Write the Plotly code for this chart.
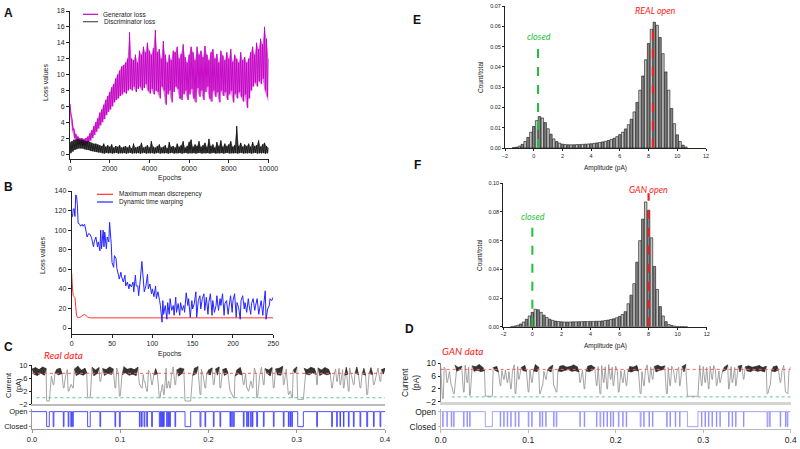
import plotly.graph_objects as go

W, H = 800, 449
FONT = "Liberation Sans"


def px(x):
    return x / W


def py(y):
    return 1 - y / H


# ---------------- A: GAN losses, envelope read per 100 epochs (high, low) ----------------
epoch_step = 100
gen_hi = [6.3, 4.5, 3.2, 2.5, 2.2, 2.0, 2.0, 1.9, 2.0, 2.2,
          2.6, 3.0, 3.5, 4.0, 4.5, 5.2, 5.6, 6.2, 6.8, 7.3,
          7.8, 8.4, 8.8, 9.5, 10.0, 10.5, 11.0, 11.2, 11.5, 12.0,
          15.3, 12.0, 11.8, 12.5, 11.5, 13.0, 12.5, 13.5, 12.8, 14.0,
          13.0, 12.5, 13.3, 15.6, 12.8, 13.2, 12.0, 14.2, 12.5, 11.5,
          12.5, 11.8, 13.0, 12.8, 13.5, 12.0, 12.6, 13.8, 12.2, 11.5,
          12.5, 13.5, 12.8, 11.8, 13.5, 12.5, 13.0, 12.2, 13.6, 12.5,
          11.8, 12.8, 13.2, 12.0, 12.6, 11.5, 13.0, 12.4, 11.8, 12.8,
          12.0, 13.2, 11.6, 12.5, 12.0, 11.5, 12.8, 11.8, 12.2, 11.5,
          12.0, 12.8, 13.5, 12.5, 14.0, 13.2, 14.5, 13.8, 16.0, 14.5, 12.0]
gen_lo = [5.0, 3.0, 2.0, 1.6, 1.3, 1.2, 1.1, 1.1, 1.2, 1.4,
          1.7, 2.0, 2.4, 2.8, 3.2, 3.6, 4.0, 4.4, 4.9, 5.3,
          5.6, 6.0, 6.5, 6.8, 7.0, 7.3, 7.5, 7.8, 7.6, 8.0,
          8.2, 8.0, 8.5, 7.8, 8.2, 8.5, 8.0, 8.3, 8.8, 8.0,
          7.6, 8.2, 7.5, 8.0, 7.8, 7.0, 8.5, 8.0, 6.2, 7.5,
          8.0, 6.5, 7.8, 8.5, 8.2, 7.0, 6.8, 7.5, 8.0, 6.8,
          7.5, 8.2, 7.0, 6.5, 8.3, 7.2, 8.0, 6.8, 7.8, 8.5,
          7.0, 6.6, 8.0, 7.2, 7.8, 6.5, 8.0, 7.3, 7.8, 6.8,
          7.5, 8.0, 6.5, 7.6, 7.0, 7.8, 7.2, 6.6, 7.5, 5.8,
          7.0, 8.0, 8.5, 9.0, 8.5, 9.2, 8.8, 9.5, 8.0, 7.2, 6.5]
disc_hi = [1.5, 1.6, 1.8, 1.8, 1.9, 1.8, 1.8, 1.7, 1.6, 1.6,
           1.5, 1.4, 1.3, 1.3, 1.2, 1.1, 1.0, 1.3, 0.9, 1.1,
           0.9, 1.2, 0.8, 1.0, 0.9, 1.1, 0.8, 0.9, 1.0, 0.8,
           1.1, 0.7, 1.3, 0.8, 0.9, 1.0, 1.4, 0.8, 0.9, 1.1,
           0.8, 1.6, 0.9, 0.8, 1.0, 1.2, 0.8, 0.9, 1.1, 0.7,
           1.5, 0.9, 1.0, 0.8, 1.3, 0.9, 1.1, 1.6, 0.8, 1.0,
           1.5, 1.8, 0.9, 1.2, 1.0, 1.6, 0.9, 1.1, 1.4, 0.9,
           1.9, 1.0, 1.2, 0.8, 1.5, 1.0, 1.7, 0.9, 1.3, 1.0,
           1.2, 1.6, 0.9, 1.1, 3.5, 1.0, 1.4, 0.9, 1.2, 1.0,
           1.3, 0.9, 1.5, 1.0, 1.1, 1.7, 0.9, 1.2, 1.4, 1.0, 0.8]
disc_lo = [0.1, 0.3, 0.5, 0.6, 0.7, 0.7, 0.7, 0.6, 0.55, 0.5,
           0.4, 0.35, 0.3, 0.25, 0.2, 0.2, 0.1, 0.05, 0.15, 0.08,
           0.12, 0.06, 0.1, 0.15, 0.05, 0.1, 0.08, 0.12, 0.05, 0.1,
           0.15, 0.06, 0.1, 0.08, 0.12, 0.05, 0.1, 0.15, 0.06, 0.1,
           0.08, 0.12, 0.05, 0.1, 0.15, 0.06, 0.1, 0.08, 0.12, 0.05,
           0.1, 0.15, 0.06, 0.1, 0.08, 0.12, 0.05, 0.1, 0.15, 0.06,
           0.1, 0.08, 0.12, 0.05, 0.1, 0.15, 0.06, 0.1, 0.08, 0.12,
           0.05, 0.1, 0.15, 0.06, 0.1, 0.08, 0.12, 0.05, 0.1, 0.15,
           0.06, 0.1, 0.08, 0.12, 0.05, 0.1, 0.15, 0.06, 0.1, 0.08,
           0.12, 0.05, 0.1, 0.15, 0.06, 0.1, 0.08, 0.12, 0.05, 0.1, 0.1]

# ---------------- B: MMD and DTW ----------------
mmd_epochs = [0, 1, 2, 3, 4, 5, 6, 7, 8, 10, 12, 14, 16, 18, 20, 22, 25, 250]
mmd_values = [56, 40, 33, 32, 31, 22, 13, 11, 10.8, 11, 11.8, 13.2, 13.8, 12.5, 11, 10.5, 10.4, 10.4]
dtw_epochs = [0, 1, 2, 3, 4, 5, 6, 7, 8, 10, 11, 13, 14, 16, 18, 19, 21, 23, 25, 27,
              28, 30, 32, 33, 35, 36, 37, 39, 40, 41, 43, 44, 46, 47, 49, 50, 52, 53, 55, 56,
              58, 59, 61, 62, 64, 66, 67, 69, 71, 72, 74, 76, 77, 79, 80, 82, 83, 85, 87, 89,
              90, 92, 94, 95, 97, 99, 100, 102, 104, 105, 107, 109, 110, 112, 113, 114, 116, 118, 119, 121,
              122, 124, 126, 127, 129, 130, 132, 134, 135, 137, 139, 140, 142, 144, 145, 147, 149, 150, 152, 154,
              155, 157, 159, 160, 162, 164, 165, 167, 169, 170, 172, 174, 175, 177, 179, 180, 182, 184, 185, 187,
              189, 190, 192, 194, 195, 197, 199, 200, 202, 204, 205, 207, 209, 210, 212, 214, 215, 217, 219, 220,
              222, 223, 225, 227, 228, 230, 232, 233, 235, 237, 238, 240, 241, 243, 245, 246, 248, 250]
dtw_values = [113, 114, 121.6, 122, 114, 136, 135, 126, 107, 106, 104, 106, 104, 106, 98, 93, 96.6, 95.5, 91, 83,
              88, 93, 83, 88, 79, 100, 81, 100, 83, 98, 81, 93, 88, 108, 86, 67, 62, 74, 71, 61,
              54, 50, 57, 52, 47, 54, 43, 47, 40, 45, 42, 47, 37, 54, 43, 43, 33, 49, 68, 47,
              37, 43, 55, 40, 45, 35, 40, 32, 43, 30, 37, 28, 23, 6, 28, 14, 23, 9, 26, 14,
              30, 18, 23, 13, 31.5, 16, 25, 13, 26, 18, 23, 16, 36, 23, 30, 11, 28, 19.5, 25, 37,
              11, 28, 33, 19.5, 30, 35, 18, 31.5, 14, 26, 35, 13, 28, 16, 23, 33, 18, 30, 23, 35,
              13, 25, 28, 14, 21, 33, 16, 28, 35, 11, 26, 21, 9, 28, 33, 19.5, 26, 16, 30, 23,
              14, 25, 30, 18, 23, 30, 14, 19.5, 28, 13, 23, 38, 9, 19.5, 23, 30, 28, 31.5]

# ---------------- E / F: amplitude histograms (bin centres, pA) ----------------
amp_bins = [round(-1.4 + 0.2 * i, 1) for i in range(61)]
real_frac = [0.0002, 0.0004, 0.0009, 0.0018, 0.0032, 0.0052, 0.0078, 0.0106, 0.0135, 0.0155,
             0.0148, 0.0125, 0.0095, 0.0068, 0.0045, 0.0032, 0.0024, 0.0019, 0.0017, 0.0016,
             0.0016, 0.0016, 0.0017, 0.0017, 0.0018, 0.0019, 0.0020, 0.0021, 0.0023, 0.0025,
             0.0027, 0.0030, 0.0033, 0.0037, 0.0042, 0.0048, 0.0056, 0.0066, 0.0078, 0.0094,
             0.0115, 0.0142, 0.0178, 0.0225, 0.0285, 0.0355, 0.0435, 0.0515, 0.0585, 0.0620,
             0.0605, 0.0545, 0.0465, 0.0375, 0.0285, 0.0195, 0.0120, 0.0065, 0.0032, 0.0014, 0.0005]
gan_frac = [0.0002, 0.0005, 0.0010, 0.0019, 0.0033, 0.0052, 0.0075, 0.0100, 0.0122, 0.0118,
            0.0100, 0.0080, 0.0064, 0.0052, 0.0044, 0.0039, 0.0036, 0.0034, 0.0033, 0.0033,
            0.0033, 0.0034, 0.0034, 0.0035, 0.0035, 0.0036, 0.0036, 0.0037, 0.0037, 0.0038,
            0.0038, 0.0040, 0.0043, 0.0046, 0.0050, 0.0055, 0.0062, 0.0072, 0.0085, 0.0105,
            0.0160, 0.0220, 0.0300, 0.0450, 0.0600, 0.0750, 0.0870, 0.0810, 0.0620, 0.0420,
            0.0260, 0.0140, 0.0075, 0.0035, 0.0015, 0.0008, 0.0004, 0.0002, 0.0001, 0.0001, 0.0]
real_closed, real_open = 0.3, 8.3
gan_closed, gan_open = 0.0, 8.0
real_marker_top = [0.052, 0.0615]
gan_marker_top = [0.073, 0.093]

# ---------------- C / D: current traces ----------------
# open-state noise band read per 4 ms slot (top, bottom), pA
trace_dt = 0.004
c_hi = [8.8, 9.2, 8.6, 9.4, 8.9, 8.5, 9.3, 8.7, 9.0, 9.5,
        8.6, 9.1, 8.8, 9.6, 8.4, 9.0, 8.7, 9.3, 8.5, 9.2,
        8.9, 8.6, 9.4, 8.8, 9.1, 8.5, 9.5, 8.7, 9.0, 8.6,
        9.3, 8.8, 9.1, 8.4, 9.2, 8.9, 9.6, 8.6, 9.0, 8.7,
        9.4, 8.5, 9.1, 8.8, 9.3, 8.6, 9.0, 9.5, 8.7, 9.2,
        8.5, 9.1, 8.8, 9.4, 8.6, 9.0, 8.9, 9.3, 8.5, 9.2,
        8.7, 9.5, 8.8, 9.1, 8.6, 9.3, 8.9, 8.5, 9.2, 8.8,
        9.0, 9.6, 8.7, 9.1, 8.5, 9.4, 8.8, 9.0, 8.6, 9.3,
        8.9, 9.1, 8.5, 9.2, 8.7, 9.5, 8.8, 9.0, 8.6, 9.3,
        9.1, 8.7, 9.4, 8.9, 9.0, 8.5, 9.2, 8.8, 9.1, 8.6, 9.0]
c_lo = [7.2, 6.8, 7.5, 6.9, 7.3, 6.6, 7.6, 7.0, 7.4, 6.7,
        7.1, 7.5, 6.8, 7.3, 6.9, 7.6, 7.0, 6.7, 7.4, 7.2,
        6.8, 7.5, 7.1, 6.6, 7.3, 7.0, 7.6, 6.9, 7.2, 6.8,
        7.4, 7.1, 6.7, 7.5, 7.0, 7.3, 6.8, 7.6, 7.1, 6.9,
        7.2, 6.6, 7.4, 7.0, 7.5, 6.8, 7.3, 7.1, 6.7, 7.4,
        7.0, 7.6, 6.9, 7.2, 6.8, 7.5, 7.1, 6.6, 7.3, 7.0,
        7.4, 6.9, 7.6, 7.1, 6.8, 7.2, 7.5, 6.7, 7.3, 7.0,
        6.9, 7.4, 7.1, 6.6, 7.5, 7.2, 6.8, 7.3, 7.0, 7.6,
        7.1, 6.8, 7.4, 7.0, 7.3, 6.7, 7.5, 7.1, 6.9, 7.2,
        6.8, 7.6, 7.0, 7.3, 6.9, 7.4, 7.1, 6.7, 7.5, 7.2, 7.0]
d_hi = [9.0, 8.8, 9.3, 8.9, 9.5, 8.7, 9.1, 9.4, 8.8, 9.2,
        8.9, 9.6, 8.8, 9.1, 9.3, 8.7, 9.0, 9.4, 8.9, 9.2,
        8.8, 9.5, 9.0, 8.7, 9.3, 9.1, 8.9, 9.6, 8.8, 9.2,
        9.0, 8.7, 9.4, 8.9, 9.1, 9.3, 8.8, 9.0, 9.5, 8.9,
        9.2, 8.8, 9.1, 9.4, 8.7, 9.0, 9.3, 8.9, 9.6, 8.8,
        9.1, 9.2, 8.7, 9.4, 9.0, 8.8, 9.3, 9.1, 8.9, 9.5,
        8.8, 9.0, 9.4, 8.9, 9.2, 8.7, 9.1, 9.3, 8.8, 9.0,
        9.6, 8.9, 9.2, 8.8, 9.4, 9.0, 8.7, 9.1, 9.3, 8.9,
        9.2, 8.8, 9.5, 9.0, 8.7, 9.1, 9.4, 8.9, 9.2, 8.8,
        9.0, 9.3, 8.7, 9.1, 9.5, 8.9, 9.2, 8.8, 9.4, 9.0, 8.9]
d_lo = [7.6, 7.9, 7.4, 7.8, 7.5, 8.0, 7.6, 7.3, 7.9, 7.5,
        7.8, 7.4, 7.7, 8.0, 7.5, 7.8, 7.3, 7.7, 7.9, 7.4,
        7.6, 7.9, 7.3, 7.7, 7.5, 8.0, 7.6, 7.4, 7.8, 7.5,
        7.9, 7.3, 7.7, 7.6, 7.4, 7.8, 8.0, 7.5, 7.7, 7.3,
        7.8, 7.6, 7.4, 7.9, 7.5, 7.7, 7.3, 7.8, 7.6, 8.0,
        7.4, 7.7, 7.9, 7.5, 7.3, 7.8, 7.6, 7.4, 7.9, 7.5,
        7.7, 7.3, 7.8, 8.0, 7.6, 7.4, 7.9, 7.5, 7.7, 7.3,
        7.8, 7.6, 7.4, 7.9, 7.5, 8.0, 7.7, 7.3, 7.8, 7.6,
        7.4, 7.9, 7.5, 7.7, 8.0, 7.3, 7.8, 7.6, 7.4, 7.9,
        7.5, 7.7, 7.3, 7.8, 7.6, 7.4, 7.9, 7.5, 7.7, 7.6, 7.8]
# closing events: (start s, end s, lowest current pA)
c_events = [(0.0166, 0.0196, -1.0), (0.0240, 0.0248, 4.0), (0.0355, 0.0363, 3.0), (0.0410, 0.0418, 2.0),
            (0.0440, 0.0448, 4.0), (0.0460, 0.0468, 3.0), (0.0630, 0.0660, 0.0), (0.0770, 0.0778, 5.0),
            (0.0940, 0.0948, 3.0), (0.0990, 0.1000, 0.5), (0.1217, 0.1225, 4.0), (0.1240, 0.1248, 3.0),
            (0.1270, 0.1278, 5.0), (0.1300, 0.1308, 2.0), (0.1356, 0.1364, 4.0), (0.1443, 0.1453, 0.0),
            (0.1460, 0.1466, 2.0), (0.1475, 0.1481, 4.0), (0.1490, 0.1498, 1.0), (0.1526, 0.1534, 3.0),
            (0.1545, 0.1551, 5.0), (0.1560, 0.1568, 3.0), (0.1620, 0.1628, 4.0), (0.1734, 0.1798, -1.0),
            (0.1904, 0.1914, 1.0), (0.1960, 0.1968, 3.0), (0.2055, 0.2063, 4.0), (0.2130, 0.2138, 3.0),
            (0.2244, 0.2250, 2.0), (0.2263, 0.2269, 1.0), (0.2282, 0.2292, 0.0), (0.2395, 0.2403, 4.0),
            (0.2433, 0.2439, 3.0), (0.2450, 0.2456, 2.0), (0.2478, 0.2484, 5.0), (0.2497, 0.2503, 3.0),
            (0.2546, 0.2556, 0.0), (0.2622, 0.2630, 4.0), (0.2735, 0.2743, 3.0), (0.2848, 0.2856, 4.0),
            (0.2905, 0.2911, 1.0), (0.2924, 0.2930, 2.0), (0.2943, 0.2951, 0.0), (0.3011, 0.3075, -0.5),
            (0.3226, 0.3234, 4.0), (0.3396, 0.3404, 3.0), (0.3453, 0.3459, 5.0), (0.3490, 0.3496, 4.0),
            (0.3529, 0.3535, 3.0), (0.3585, 0.3593, 2.0), (0.3642, 0.3650, 4.0), (0.3717, 0.3725, 3.0),
            (0.3793, 0.3803, 1.0), (0.3869, 0.3877, 4.0), (0.3944, 0.3952, 5.0)]
d_events = [(0.0020, 0.0030, -1.0), (0.0070, 0.0076, 4.0), (0.0120, 0.0126, 3.0), (0.0145, 0.0155, 0.5),
            (0.0260, 0.0268, 1.0), (0.0300, 0.0306, 4.0), (0.0330, 0.0338, 0.0), (0.0510, 0.0590, -0.3),
            (0.0680, 0.0686, 3.0), (0.0720, 0.0726, 5.0), (0.0760, 0.0766, 4.0), (0.0800, 0.0806, 2.0),
            (0.0850, 0.0858, 0.5), (0.0890, 0.0896, 5.0), (0.1000, 0.1008, 1.0), (0.1040, 0.1046, 4.0),
            (0.1130, 0.1138, 0.5), (0.1160, 0.1166, 3.0), (0.1200, 0.1206, 5.0), (0.1290, 0.1296, 3.0),
            (0.1320, 0.1328, 1.0), (0.1590, 0.1596, 4.0), (0.1640, 0.1646, 2.0), (0.1780, 0.1786, 3.0),
            (0.1820, 0.1830, 0.5), (0.1860, 0.1866, 4.0), (0.1900, 0.1906, 2.0), (0.1940, 0.1946, 5.0),
            (0.1970, 0.1976, 3.0), (0.2030, 0.2038, 1.0), (0.2080, 0.2086, 4.0), (0.2120, 0.2126, 3.0),
            (0.2280, 0.2290, 0.5), (0.2320, 0.2326, 3.0), (0.2380, 0.2386, 4.0), (0.2420, 0.2426, 5.0),
            (0.2580, 0.2590, 0.5), (0.2620, 0.2626, 3.0), (0.2680, 0.2686, 4.0), (0.2730, 0.2736, 3.0),
            (0.2820, 0.2940, -0.3), (0.2980, 0.2986, 3.0), (0.3020, 0.3026, 4.0), (0.3060, 0.3066, 2.0),
            (0.3100, 0.3106, 5.0), (0.3150, 0.3156, 3.0), (0.3190, 0.3196, 4.0), (0.3290, 0.3296, 2.0),
            (0.3330, 0.3336, 4.0), (0.3370, 0.3376, 3.0), (0.3460, 0.3466, 5.0), (0.3730, 0.3740, 0.5),
            (0.3760, 0.3766, 3.0), (0.3880, 0.3886, 4.0), (0.3940, 0.3946, 1.0), (0.3960, 0.3968, 0.5)]
c_levels = [7.46, 0.0]     # open (red), closed (green)
d_levels = [8.1, -0.5]
c_green_start, d_green_start = 0.005, 0.0126
t_end = 0.4


def zigzag(hi, lo, step, xmax):
    xs, ys = [], []
    for i, (h, l) in enumerate(zip(hi, lo)):
        for x, v in ((i * step, h), (i * step + step / 2, l)):
            if x <= xmax:
                xs.append(x)
                ys.append(v)
    return xs, ys


def build_current(hi, lo, events, dt):
    zx, zy = zigzag(hi, lo, dt, t_end)
    pts = [(t, v) for t, v in zip(zx, zy)
           if all(not (s - 0.0005 <= t <= e + 0.0005) for s, e, d in events)]
    for s, e, d in events:
        pts.append((s, d))
        pts.append((e, d))
    pts.sort()
    return [p[0] for p in pts], [p[1] for p in pts]


def band_segments(hi, lo, events, dt):
    # one closed polygon (top forward, bottom back) per open stretch between closings
    zx, zy = zigzag(hi, lo, dt, t_end)
    tops = [(t, v) for j, (t, v) in enumerate(zip(zx, zy)) if j % 2 == 0]
    bots = [(t, v) for j, (t, v) in enumerate(zip(zx, zy)) if j % 2 == 1]
    edges = [-1.0]
    for s, e, d in events:
        edges += [s, e]
    edges.append(1.0)
    segs = []
    for a, b in zip(edges[0::2], edges[1::2]):
        tp = [p for p in tops if a + 0.0004 < p[0] < b - 0.0004]
        bt = [p for p in bots if a + 0.0004 < p[0] < b - 0.0004]
        if len(tp) + len(bt) < 3 or not tp or not bt:
            continue
        pts = tp + bt[::-1]
        segs.append(([p[0] for p in pts], [p[1] for p in pts]))
    return segs


def build_digital(events):
    xs, ys = [0], [1]
    for s, e, d in events:
        xs += [s, s, e, e]
        ys += [1, 0, 0, 1]
    xs.append(t_end)
    ys.append(1)
    return xs, ys


def line(color, width, dash=None):
    return dict(color=color, width=width, dash=dash, simplify=False)


fig = go.Figure()

# A: shaded envelope plus the zig-zag trace on top
ex = [i * epoch_step for i in range(len(gen_hi))]
for hi, lo, shade, col in ((gen_hi, gen_lo, "rgba(196,0,196,0.55)", "#c400c4"),
                           (disc_hi, disc_lo, "rgba(20,20,20,0.6)", "#151515")):
    fig.add_trace(go.Scatter(x=ex, y=hi, mode="lines", line=line(col, 0), xaxis="x", yaxis="y"))
    fig.add_trace(go.Scatter(x=ex, y=lo, mode="lines", line=line(col, 0), fill="tonexty", fillcolor=shade,
                             xaxis="x", yaxis="y"))
    zx, zy = zigzag(hi, lo, epoch_step, 10000)
    fig.add_trace(go.Scatter(x=zx, y=zy, mode="lines", line=line(col, 0.9), xaxis="x", yaxis="y"))

# B
fig.add_trace(go.Scatter(x=mmd_epochs, y=mmd_values, mode="lines", line=line("#ff3333", 1), xaxis="x2", yaxis="y2"))
fig.add_trace(go.Scatter(x=dtw_epochs, y=dtw_values, mode="lines", line=line("#2424ff", 1), xaxis="x2", yaxis="y2"))

# E / F histograms
bar_cols = ["#858585" if i % 2 else "#c4c4c4" for i in range(len(amp_bins))]
for xa, ya, vals in (("x3", "y3", real_frac), ("x4", "y4", gan_frac)):
    fig.add_trace(go.Bar(x=amp_bins, y=vals, width=0.17, marker=dict(color=bar_cols, line=dict(color="#111", width=0.6)),
                         xaxis=xa, yaxis=ya))
for xa, ya, (xc, xo), tops in (("x3", "y3", (real_closed, real_open), real_marker_top),
                              ("x4", "y4", (gan_closed, gan_open), gan_marker_top)):
    fig.add_trace(go.Scatter(x=[xc, xc], y=[0, tops[0]], mode="lines",
                             line=line("#1fc03a", 2, "dash"), xaxis=xa, yaxis=ya))
    fig.add_trace(go.Scatter(x=[xo, xo], y=[0, tops[1]], mode="lines",
                             line=line("#ee2020", 2.2, "dash"), xaxis=xa, yaxis=ya))

# C / D traces: light grey full trace (closings), dark band for the open-state noise
for xa, ya, xb, yb, hi, lo, ev, lv, gstart, dcol in (
        ("x5", "y5", "x6", "y6", c_hi, c_lo, c_events, c_levels, c_green_start, "rgba(50,50,255,0.85)"),
        ("x7", "y7", "x8", "y8", d_hi, d_lo, d_events, d_levels, d_green_start, "rgba(90,90,255,0.55)")):
    cx, cy = build_current(hi, lo, ev, trace_dt)
    fig.add_trace(go.Scatter(x=cx, y=cy, mode="lines", line=line("#8e8e8e", 0.8), xaxis=xa, yaxis=ya))
    for bx, by in band_segments(hi, lo, ev, trace_dt):
        fig.add_trace(go.Scatter(x=bx, y=by, mode="lines", line=line("#1e1e1e", 0.6), fill="toself",
                                 fillcolor="rgba(25,25,25,0.85)", xaxis=xa, yaxis=ya))
    fig.add_trace(go.Scatter(x=[0, t_end], y=[lv[0], lv[0]], mode="lines",
                             line=line("#ff5a5a", 1, "dot"), xaxis=xa, yaxis=ya))
    fig.add_trace(go.Scatter(x=[gstart, t_end], y=[lv[1], lv[1]], mode="lines",
                             line=line("#5cc88a", 1, "dot"), xaxis=xa, yaxis=ya))
    sx, sy = build_digital(ev)
    fig.add_trace(go.Scatter(x=sx, y=sy, mode="lines", line=line(dcol, 1), xaxis=xb, yaxis=yb))


def ax(**kw):
    base = dict(showline=True, linecolor="#222", linewidth=1, ticks="outside", ticklen=3, tickwidth=1,
                tickcolor="#222", showgrid=False, zeroline=False, automargin=False,
                ticklabeloverflow="allow",
                tickfont=dict(size=7, color="#222", family=FONT))
    base.update(kw)
    return base


small = dict(size=5.5, color="#222", family=FONT)
ct = ["0.0", "0.1", "0.2", "0.3", "0.4"]
cv = [0, 0.1, 0.2, 0.3, 0.4]
ea = [0, 2000, 4000, 6000, 8000, 10000]

fig.update_layout(
    width=W, height=H, margin=dict(l=0, r=0, t=0, b=0, autoexpand=False),
    paper_bgcolor="white", plot_bgcolor="white", showlegend=False, bargap=0.1,
    xaxis=ax(domain=[px(70), px(268.5)], range=[0, 10000], tickvals=ea, ticktext=[str(v) for v in ea], anchor="y"),
    yaxis=ax(domain=[py(159), py(11)], range=[-0.63, 18], tickvals=list(range(0, 19, 2)), anchor="x"),
    xaxis2=ax(domain=[px(71.7), px(273.3)], range=[0, 250], tickvals=[0, 50, 100, 150, 200, 250], anchor="y2"),
    yaxis2=ax(domain=[py(334), py(191)], range=[-6.1, 140], tickvals=list(range(0, 141, 20)), anchor="x2"),
    xaxis3=ax(domain=[px(505), px(706)], range=[-2, 12], dtick=2, tickfont=small, ticklen=2, anchor="y3"),
    yaxis3=ax(domain=[py(148), py(6)], range=[0, 0.07], dtick=0.01, tickformat=".2f", tickfont=small, ticklen=2, anchor="x3"),
    xaxis4=ax(domain=[px(503.3), px(706.7)], range=[-2, 12], dtick=2, tickfont=small, ticklen=2, anchor="y4"),
    yaxis4=ax(domain=[py(326.7), py(183.3)], range=[0, 0.1], dtick=0.02, tickformat=".2f", tickfont=small, ticklen=2, anchor="x4"),
    xaxis5=ax(domain=[px(32), px(385)], range=[0, t_end], showticklabels=False, ticks="", linecolor="#bbbbbb", linewidth=1.5, anchor="y5"),
    yaxis5=ax(domain=[py(404.3), py(365)], range=[-2, 10], tickvals=[-2, 2, 6, 10], ticklen=2, tickfont=dict(size=7.5, color="#222", family=FONT), anchor="x5"),
    xaxis6=ax(domain=[px(32), px(385)], range=[0, t_end], tickvals=cv, ticktext=ct, linecolor="#999", tickcolor="#999", tickfont=dict(size=7.5, color="#222", family=FONT), anchor="y6"),
    yaxis6=ax(domain=[py(428.9), py(409.4)], range=[-0.15, 1.15], tickvals=[0, 1], ticktext=["Closed", "Open"], linecolor="#999", tickcolor="#999", ticklen=2, tickfont=dict(size=7.5, color="#222", family=FONT), anchor="x6"),
    xaxis7=ax(domain=[px(440.7), px(790.7)], range=[0, t_end], showticklabels=False, ticks="", linecolor="#d4d4d4", linewidth=2.5, anchor="y7"),
    yaxis7=ax(domain=[py(401.7), py(363.3)], range=[-2, 10], tickvals=[-2, 2, 6, 10], ticklen=2, linecolor="#888", tickfont=dict(size=8.5, color="#222", family=FONT), anchor="x7"),
    xaxis8=ax(domain=[px(440.7), px(790.7)], range=[0, t_end], tickvals=cv, ticktext=ct, linecolor="#bbb", tickcolor="#bbb", tickfont=dict(size=8.5, color="#222", family=FONT), anchor="y8"),
    yaxis8=ax(domain=[py(428.9), py(409.4)], range=[-0.15, 1.15], tickvals=[0, 1], ticktext=["Closed", "Open"], linecolor="#bbb", tickcolor="#bbb", ticklen=2, tickfont=dict(size=8.5, color="#222", family=FONT), anchor="x8"),
)


def note(text, x, y, size=7, angle=0, color="#222", italic=False, bold=False, family=FONT, xanchor="center"):
    if bold:
        text = "<b>" + text + "</b>"
    if italic:
        text = "<i>" + text + "</i>"
    fig.add_annotation(text=text, x=px(x), y=py(y), xref="paper", yref="paper", showarrow=False,
                       textangle=angle, xanchor=xanchor, yanchor="middle",
                       font=dict(size=size, color=color, family=family))


# panel letters
for lab, x, y in (("A", 8, 13), ("B", 8, 187), ("C", 8, 347), ("D", 409, 329), ("E", 417, 20), ("F", 417, 165)):
    note(lab, x, y, size=12, bold=True, color="#111")

# axis titles
note("Epochs", 170, 178)
note("Loss values", 45, 83, angle=-90)
note("Epochs", 170, 354)
note("Loss values", 42, 256, angle=-90)
note("Count/total", 480, 77, size=6.5, angle=-90)
note("Amplitude (pA)", 605, 168, size=6.5)
note("Count/total", 479, 255, size=6.5, angle=-90)
note("Amplitude (pA)", 605, 346, size=6.5)
note("Current<br>(pA)", 13, 385, size=7.5, angle=-90)
note("Current<br>(pA)", 410, 382, size=8.5, angle=-90)

# legends
for y, col, lab in ((14.3, "#c400c4", "Generator loss"), (21.7, "#555", "Discriminator loss")):
    fig.add_shape(type="line", xref="paper", yref="paper", x0=px(83), x1=px(98), y0=py(y), y1=py(y),
                  line=dict(color=col, width=1.2))
    note(lab, 101.5, y, size=6.5, xanchor="left")
for y, col, lab in ((194.3, "#ff3333", "Maximum mean discrepency"), (202, "#2424ff", "Dynamic time warping")):
    fig.add_shape(type="line", xref="paper", yref="paper", x0=px(97), x1=px(113), y0=py(y), y1=py(y),
                  line=dict(color=col, width=1.2))
    note(lab, 116.5, y, size=6.5, xanchor="left")

# red / green italic labels
note("Real data", 63, 355, size=10, color="#ff2020", italic=True, family="Lato")
note("GAN data", 462, 351, size=10, color="#ff2020", italic=True, family="Lato")
note("closed", 539, 37, size=9, color="#1fc03a", italic=True, family="Lato")
note("REAL open", 655, 10, size=9, color="#ff2020", italic=True, family="Lato")
note("closed", 533, 216.7, size=9, color="#1fc03a", italic=True, family="Lato")
note("GAN open", 648, 189, size=9, color="#ff2020", italic=True, family="Lato")

# the page's default 8px body margin would push the 800x449 figure off the window
fig.write_html("out.html", config={"displayModeBar": False},
               post_script="document.body.style.margin='0';")
